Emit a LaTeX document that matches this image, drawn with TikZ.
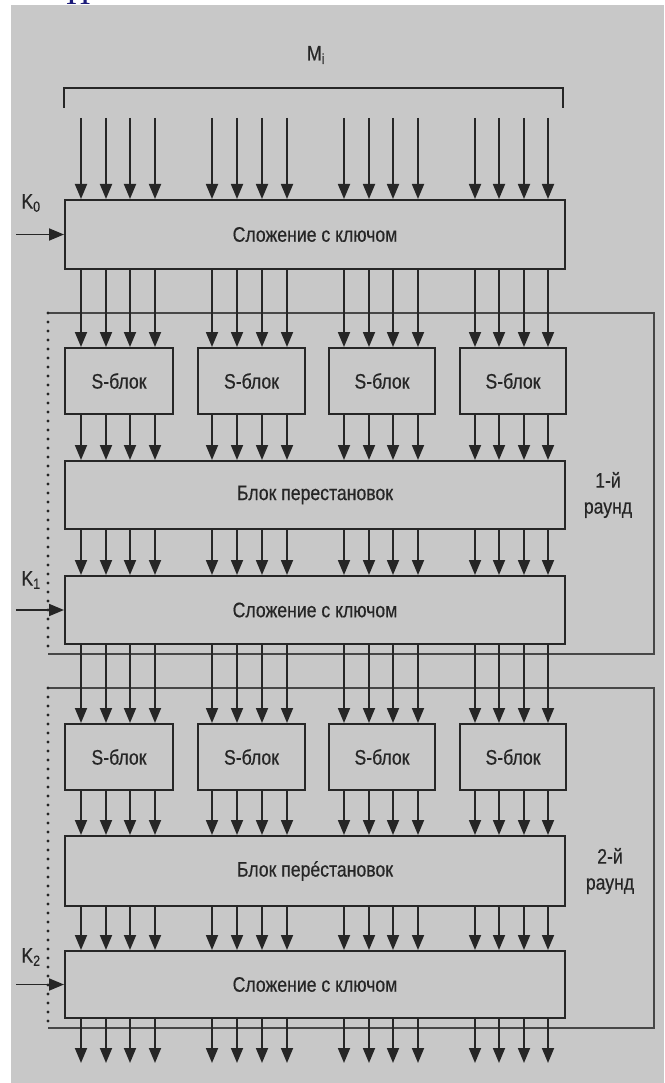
\documentclass[tikz,border=0pt]{standalone}
\usepackage{fontspec}
\setmainfont{Liberation Sans}[FakeStretch=0.84, FakeBold=0.5]
\newfontfamily\serifblue{Liberation Serif}
\usetikzlibrary{arrows.meta}
\definecolor{bg}{HTML}{C8C8C8}
\definecolor{ink}{HTML}{262626}
\definecolor{blu}{HTML}{1C1C7A}
\begin{document}
\begin{tikzpicture}[x=1pt,y=-1pt,
  box/.style={draw=ink, line width=2pt, fill=bg, inner sep=0pt, anchor=north west,
    font=\fontsize{21}{21}\selectfont, text=ink},
  wide/.style={box, minimum width=500pt},
  sbox/.style={box, minimum height=66pt},
  arr/.style={draw=ink, line width=1.8pt, -{Triangle[width=12pt,length=15pt]}},
  frameline/.style={draw=ink!85, line width=1.4pt},
  dotline/.style={draw=ink, line width=3.2pt, line cap=round, dash pattern=on 0pt off 9pt},
  lbl/.style={font=\fontsize{21}{26}\selectfont, text=ink, inner sep=0pt}]
\useasboundingbox (0,0) rectangle (664,1083);
\fill[bg] (11,5) rectangle (664,1083);
\begin{scope}
  \clip (0,0) rectangle (664,5);
  \node[anchor=base west, text=blu, font=\serifblue\fontsize{34}{34}\selectfont, inner sep=0pt] (top) at (66,5) {П};
\end{scope}

% round frames
\draw[frameline] (48,313) -- (654,313) -- (654,654) -- (48,654);
\draw[dotline] (48,313) -- (48,654);
\draw[frameline] (48,688) -- (654,688) -- (654,1028) -- (48,1028);
\draw[dotline] (48,688) -- (48,1028);

% bracket and label
\draw[ink, line width=1.6pt] (64,108) -- (64,88) -- (563,88) -- (563,108);
\node[lbl] (mi) at (316,55) {M\textsubscript{i}};

% boxes
\node[wide, minimum height=69pt] (a0) at (64,199) {Сложение с ключом};
\node[sbox, minimum width=108pt] (s11) at (64,347) {S-блок};
\node[sbox, minimum width=107pt] (s12) at (197,347) {S-блок};
\node[sbox, minimum width=106pt] (s13) at (328,347) {S-блок};
\node[sbox, minimum width=106pt] (s14) at (459,347) {S-блок};
\node[wide, minimum height=68pt] (p1) at (64,460) {Блок перестановок};
\node[wide, minimum height=68pt] (a1) at (64,575) {Сложение с ключом};
\node[sbox, minimum width=108pt] (s21) at (64,723) {S-блок};
\node[sbox, minimum width=107pt] (s22) at (197,723) {S-блок};
\node[sbox, minimum width=106pt] (s23) at (328,723) {S-блок};
\node[sbox, minimum width=106pt] (s24) at (459,723) {S-блок};
\node[wide, minimum height=70pt] (p2) at (64,835) {Блок перéстановок};
\node[wide, minimum height=67pt] (a2) at (64,950) {Сложение с ключом};

% round labels
\node[lbl, align=center] (r1) at (608,495) {1-й\\раунд};
\node[lbl, align=center] (r2) at (610,871) {2-й\\раунд};

% key labels and arrows
\coordinate (kx) at (16,0);
\node[lbl] (k0) at (31,203) {K\textsubscript{0}};
\node[lbl] (k1) at (31,580) {K\textsubscript{1}};
\node[lbl] (k2) at (31,957) {K\textsubscript{2}};
\draw[arr] (kx |- a0.west) -- (a0.west);
\draw[arr] (kx |- a1.west) -- (a1.west);
\draw[arr] (kx |- a2.west) -- (a2.west);

% bit lines
\foreach \x [count=\i] in {81,106,130,155,212,237,262,287,344,369,393,418,475,499,524,548}
  \coordinate (c\i) at (\x,0);
\coordinate (intop) at (0,118);
\coordinate (outbot) at (0,1063);
\foreach \i in {1,...,16}{
  \draw[arr] (c\i |- intop) -- (c\i |- a0.north);
  \draw[arr] (c\i |- a0.south) -- (c\i |- s11.north);
  \draw[arr] (c\i |- s11.south) -- (c\i |- p1.north);
  \draw[arr] (c\i |- p1.south) -- (c\i |- a1.north);
  \draw[arr] (c\i |- a1.south) -- (c\i |- s21.north);
  \draw[arr] (c\i |- s21.south) -- (c\i |- p2.north);
  \draw[arr] (c\i |- p2.south) -- (c\i |- a2.north);
  \draw[arr] (c\i |- a2.south) -- (c\i |- outbot);
}
\end{tikzpicture}
\end{document}
